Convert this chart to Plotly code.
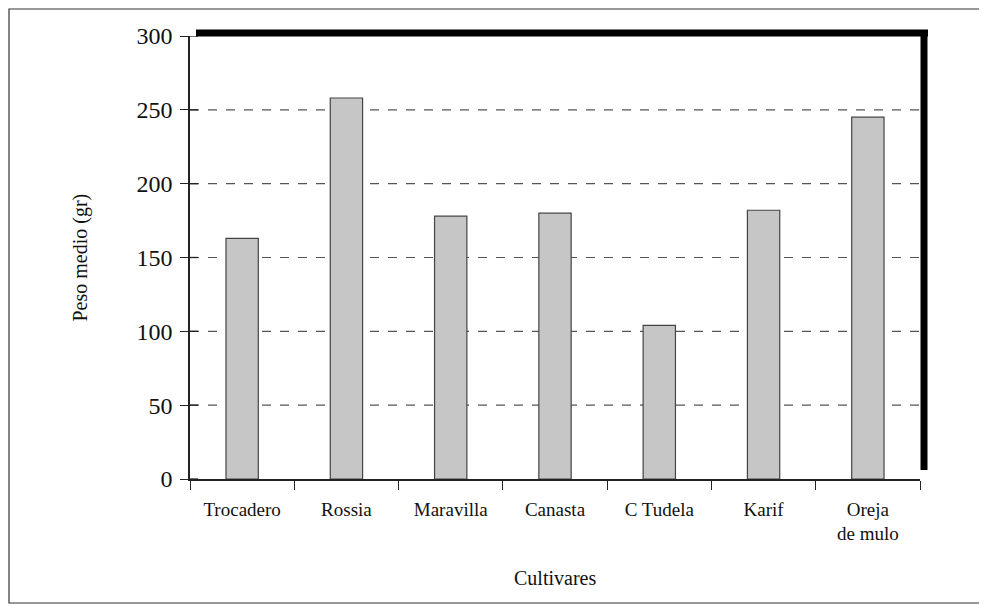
import plotly.graph_objects as go

categories = ["Trocadero", "Rossia", "Maravilla", "Canasta", "C Tudela", "Karif", "Oreja<br>de mulo"]
peso_medio = [163, 258, 178, 180, 104, 182, 245]
y_ticks = [0, 50, 100, 150, 200, 250, 300]

FONT = "Liberation Serif"
# page has an 8px body margin; size the figure so it fills the window
W, H = 979, 597
L, R, T, B = 182, 67, 28, 126
pw, ph = W - L - R, H - T - B

fig = go.Figure()
fig.add_trace(go.Bar(
    x=categories, y=peso_medio, width=0.31,
    marker=dict(color="#c6c6c6", line=dict(color="#444444", width=1.2)),
))

shapes = []
for v in y_ticks[1:-1]:
    shapes.append(dict(type="line", xref="paper", yref="y", x0=0, x1=1, y0=v, y1=v,
                       line=dict(color="#555555", width=1.2, dash="dash"), layer="below"))
for v in y_ticks:
    shapes.append(dict(type="line", xref="paper", yref="y", x0=0, x1=8 / pw, y0=v, y1=v,
                       line=dict(color="#222222", width=1.3)))
shapes.append(dict(type="line", xref="paper", yref="paper",
                   x0=6 / pw, x1=1 + 8 / pw, y0=1 + 3 / ph, y1=1 + 3 / ph,
                   line=dict(color="black", width=7)))
shapes.append(dict(type="line", xref="paper", yref="paper",
                   x0=1 + 4 / pw, x1=1 + 4 / pw, y0=1 + 6 / ph, y1=9 / ph,
                   line=dict(color="black", width=7)))
shapes.append(dict(type="rect", xref="paper", yref="paper",
                   x0=-(L - 1) / pw, x1=1 + (R - 2) / pw, y0=-(B - 2) / ph, y1=1 + (T - 1) / ph,
                   line=dict(color="#333333", width=1.2), fillcolor="rgba(0,0,0,0)"))

annotations = [
    dict(text="Cultivares", xref="paper", yref="paper", x=0.5, y=-99 / ph,
         showarrow=False, xanchor="center", yanchor="middle",
         font=dict(size=20, family=FONT, color="#111111")),
    dict(text="Peso medio (gr)", xref="paper", yref="paper", x=-110 / pw, y=0.5,
         showarrow=False, xanchor="center", yanchor="middle", textangle=-90,
         font=dict(size=20, family=FONT, color="#111111")),
]

fig.update_layout(
    width=W, height=H,
    margin=dict(l=L, r=R, t=T, b=B),
    paper_bgcolor="white", plot_bgcolor="white",
    showlegend=False,
    font=dict(family=FONT, color="#111111"),
    shapes=shapes, annotations=annotations,
    xaxis=dict(
        type="category", tickson="boundaries", ticks="outside", ticklen=9, tickwidth=1.3,
        tickcolor="#222222", showline=True, linecolor="#222222", linewidth=1.5,
        showgrid=False, tickfont=dict(size=19, family=FONT), ticklabelstandoff=12,
        range=[-0.5, 6.5],
    ),
    yaxis=dict(
        range=[0, 300], tickvals=y_ticks, ticks="outside", ticklen=8, tickwidth=1.3,
        tickcolor="#222222", showline=True, linecolor="#222222", linewidth=1.5,
        showgrid=False, zeroline=False, tickfont=dict(size=24, family=FONT),
        ticklabelstandoff=3,
    ),
)

fig.write_html("out.html")
